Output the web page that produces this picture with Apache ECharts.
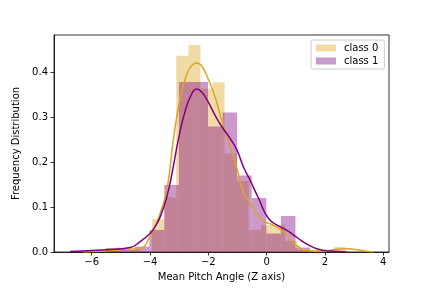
<!DOCTYPE html>
<html>
<head>
<meta charset="utf-8">
<script src="https://cdn.jsdelivr.net/npm/echarts@6/dist/echarts.min.js"></script>
<style>html,body{margin:0;padding:0;background:#fff}#c{width:432px;height:288px}</style>
</head>
<body>
<div id="c"></div>
<script>
// ---- data ----
const seriesNames = ['class 0', 'class 1'];
const xTicks = [-6, -4, -2, 0, 2, 4];
const yTicks = [0, 0.1, 0.2, 0.3, 0.4];

const class0Edges = [-5.17, -4.76, -4.34, -3.93, -3.51, -3.10, -2.68, -2.27, -1.85, -1.44, -1.02, -0.61, -0.19, 0.22, 0.64, 1.05, 1.47, 1.88, 2.30, 2.71];
const class0Heights = [0.01, 0.005, 0, 0.073, 0.121, 0.436, 0.46, 0.363, 0.377, 0.219, 0.158, 0.049, 0.06, 0.06, 0.025, 0.005, 0, 0, 0.011];

const class1Edges = [-5.52, -5.02, -4.52, -4.02, -3.51, -3.01, -2.51, -2.01, -1.51, -1.01, -0.51, -0.01, 0.49, 0.99, 1.49];
const class1Heights = [0.009, 0.005, 0.012, 0.049, 0.149, 0.378, 0.378, 0.279, 0.31, 0.17, 0.12, 0.041, 0.08, 0.01];

const kde0X = [-6.29, -5.71, -4.91, -4.34, -4.00, -3.83, -3.65, -3.42, -3.20, -2.97, -2.74, -2.58, -2.43, -2.26, -2.00, -1.77, -1.54, -1.25, -1.02, -0.80, -0.51, -0.28, -0.05, 0.18, 0.41, 0.64, 0.86, 1.09, 1.32, 1.95, 2.41, 2.75, 3.32, 3.66];
const kde0Y = [0.000, 0.002, 0.006, 0.008, 0.034, 0.056, 0.086, 0.138, 0.249, 0.340, 0.395, 0.413, 0.420, 0.416, 0.384, 0.345, 0.293, 0.234, 0.186, 0.135, 0.104, 0.078, 0.067, 0.061, 0.053, 0.042, 0.023, 0.012, 0.004, 0.002, 0.006, 0.007, 0.003, 0.000];

const kde1X = [-6.74, -6.12, -5.48, -4.68, -4.34, -4.00, -3.83, -3.65, -3.42, -3.20, -3.03, -2.80, -2.58, -2.40, -2.22, -2.00, -1.77, -1.55, -1.25, -1.02, -0.80, -0.57, -0.28, 0.06, 0.41, 0.75, 1.09, 1.43, 1.78, 2.18, 2.75];
const kde1Y = [0.001, 0.003, 0.005, 0.010, 0.023, 0.041, 0.056, 0.078, 0.123, 0.190, 0.249, 0.312, 0.350, 0.362, 0.355, 0.333, 0.304, 0.280, 0.252, 0.227, 0.190, 0.160, 0.120, 0.075, 0.058, 0.046, 0.030, 0.016, 0.006, 0.002, 0.000];

// ---- styles ----
const lineColors = ['#daa520', '#800080'];
const fillColors = ['rgba(218,165,32,0.4)', 'rgba(128,0,128,0.4)'];
const FONT = 'DejaVu Sans';

function histData(edges, heights) {
  return heights.map((h, i) => [edges[i], edges[i + 1], h]);
}
function pairs(xs, ys) { return xs.map((x, i) => [x, ys[i]]); }
function renderBar(color) {
  return function (params, api) {
    const p0 = api.coord([api.value(0), api.value(2)]);
    const p1 = api.coord([api.value(1), 0]);
    return {
      type: 'rect',
      shape: { x: p0[0], y: p0[1], width: p1[0] - p0[0], height: p1[1] - p0[1] },
      style: { fill: color }
    };
  };
}
const minusFmt = v => (v < 0 ? '\u2212' + Math.abs(v) : String(v));

const chart = echarts.init(document.getElementById('c'), null, { renderer: 'canvas' });
chart.setOption({
  animation: false,
  backgroundColor: '#fff',
  grid: { left: 54, top: 35, right: 43, bottom: 36, show: true, borderColor: '#000', borderWidth: 0.8, backgroundColor: 'transparent' },
  legend: {
    left: 311, top: 40, orient: 'vertical',
    padding: [3, 6, 3, 5], itemGap: 3, itemWidth: 20, itemHeight: 7,
    borderColor: '#cccccc', borderWidth: 1, borderRadius: 2, backgroundColor: 'rgba(255,255,255,0.8)',
    textStyle: { fontFamily: FONT, fontSize: 10, color: '#000', padding: [0, 0, 0, 3] },
    data: [
      { name: seriesNames[0], icon: 'rect', itemStyle: { color: fillColors[0] } },
      { name: seriesNames[1], icon: 'rect', itemStyle: { color: fillColors[1] } }
    ]
  },
  xAxis: {
    type: 'value', min: -7.294, max: 4.2,
    name: 'Mean Pitch Angle (Z axis)', nameLocation: 'middle', nameGap: 20,
    nameTextStyle: { fontFamily: FONT, fontSize: 10, color: '#000' },
    axisLine: { onZero: false, lineStyle: { color: '#000', width: 0.8 } },
    axisTick: { show: true, length: 3.5, lineStyle: { color: '#000', width: 0.8 }, customValues: xTicks },
    axisLabel: { fontFamily: FONT, fontSize: 10, color: '#000', margin: 5, customValues: xTicks, formatter: minusFmt },
    splitLine: { show: false }
  },
  yAxis: {
    type: 'value', min: 0, max: 0.4822,
    name: 'Frequency Distribution', nameLocation: 'middle', nameGap: 28, nameRotate: 90,
    nameTextStyle: { fontFamily: FONT, fontSize: 10, color: '#000' },
    axisLine: { show: true, onZero: false, lineStyle: { color: '#000', width: 0.8 } },
    axisTick: { show: true, length: 3.5, lineStyle: { color: '#000', width: 0.8 }, customValues: yTicks },
    axisLabel: { fontFamily: FONT, fontSize: 10, color: '#000', margin: 6, customValues: yTicks, formatter: v => v.toFixed(1) },
    splitLine: { show: false }
  },
  series: [
    { name: seriesNames[0], type: 'custom', renderItem: renderBar(fillColors[0]), data: histData(class0Edges, class0Heights), itemStyle: { color: fillColors[0] }, z: 1, encode: { x: [0, 1], y: 2 } },
    { name: seriesNames[1], type: 'custom', renderItem: renderBar(fillColors[1]), data: histData(class1Edges, class1Heights), itemStyle: { color: fillColors[1] }, z: 1, encode: { x: [0, 1], y: 2 } },
    { name: 'kde0', type: 'line', data: pairs(kde0X, kde0Y), showSymbol: false, smooth: 0.5, lineStyle: { color: lineColors[0], width: 1.5 }, itemStyle: { color: lineColors[0] }, z: 3 },
    { name: 'kde1', type: 'line', data: pairs(kde1X, kde1Y), showSymbol: false, smooth: 0.5, lineStyle: { color: lineColors[1], width: 1.5 }, itemStyle: { color: lineColors[1] }, z: 3 }
  ]
});
</script>
</body>
</html>
